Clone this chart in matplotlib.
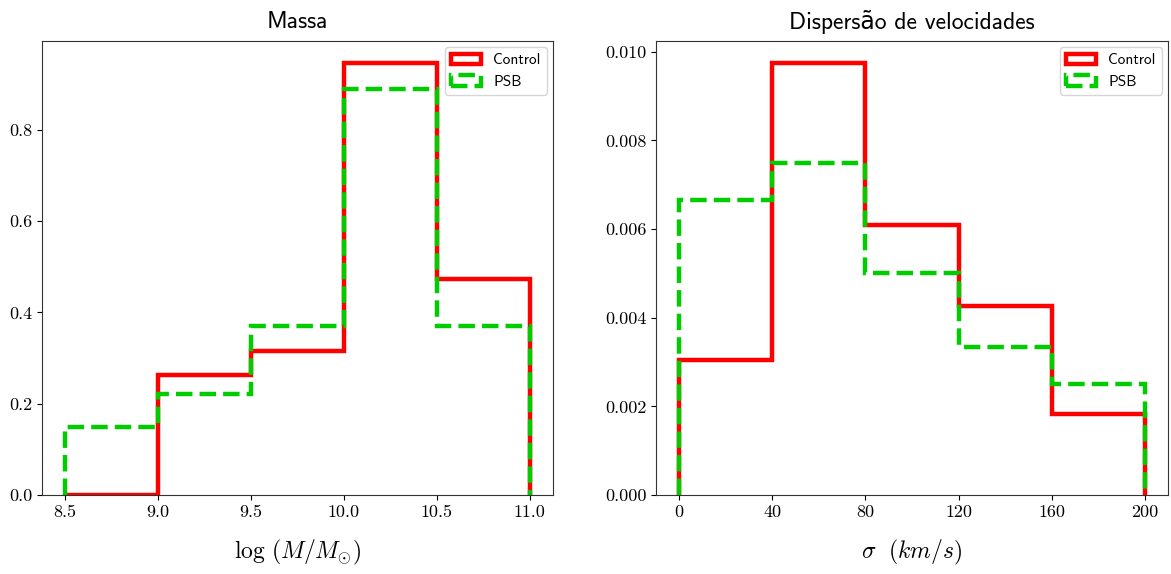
import numpy as np
import matplotlib
matplotlib.use("Agg")
import matplotlib.pyplot as plt

# ---- data ----
mass_edges = [8.5, 9.0, 9.5, 10.0, 10.5, 11.0]
mass_control = [0.0, 5/19, 6/19, 18/19, 9/19]
mass_psb = [4/27, 6/27, 10/27, 24/27, 10/27]

sigma_edges = [0, 40, 80, 120, 160, 200]
sigma_control = [5/1640, 16/1640, 10/1640, 7/1640, 3/1640]
sigma_psb = [8/1200, 9/1200, 6/1200, 4/1200, 3/1200]

mass_ticks = [8.5, 9.0, 9.5, 10.0, 10.5, 11.0]
sigma_ticks = [0, 40, 80, 120, 160, 200]
mass_yticks = [0.0, 0.2, 0.4, 0.6, 0.8]
sigma_yticks = [0.0, 0.002, 0.004, 0.006, 0.008, 0.010]

titles = ["Massa", "Dispersão de velocidades"]
xlabels = [r"$\log\,(M/M_{\odot})$", r"$\sigma\ \ (km/s)$"]
labels = ["Control", "PSB"]

plt.rcParams['mathtext.fontset'] = 'cm'
plt.rcParams['axes.unicode_minus'] = False

RED = '#ff0000'
GREEN = '#00cc00'
SANS = ['cmss10', 'DejaVu Sans']
SERIF = ['cmr10', 'DejaVu Serif']

W, H = 1171, 574
fig = plt.figure(figsize=(W/100, H/100), dpi=100)
ax1 = fig.add_axes([42/W, (H-495)/H, 511/W, 454/H])
ax2 = fig.add_axes([656/W, (H-495)/H, 512/W, 454/H])

def draw(ax, edges, ctrl, psb, ticks, yticks, title, xlabel, fmt, yfmt):
    edges = np.asarray(edges, float)
    centers = 0.5*(edges[:-1]+edges[1:])
    ax.hist(centers, bins=edges, weights=ctrl, histtype='step',
            color=RED, linewidth=3.2, label=labels[0])
    ax.hist(centers, bins=edges, weights=psb, histtype='step',
            color=GREEN, linewidth=3.2, linestyle='--', label=labels[1])
    ax.set_xticks(ticks)
    ax.set_xticklabels([fmt(t) for t in ticks], family=SERIF, fontsize=13)
    ax.set_yticks(yticks)
    ax.set_yticklabels([yfmt(v) for v in yticks], family=SERIF, fontsize=13)
    ax.set_title(title, family=SANS, fontsize=17, pad=9)
    ax.set_xlabel(xlabel, fontsize=17, labelpad=13)
    ax.legend(loc='upper right', prop={'family': SANS, 'size': 11},
              handlelength=2.0, borderaxespad=0.4)
    for sp in ax.spines.values():
        sp.set_color('#333333')

draw(ax1, mass_edges, mass_control, mass_psb, mass_ticks, mass_yticks,
     titles[0], xlabels[0], lambda t: f"{t:.1f}", lambda v: f"{v:.1f}")
draw(ax2, sigma_edges, sigma_control, sigma_psb, sigma_ticks, sigma_yticks,
     titles[1], xlabels[1], lambda t: f"{t:d}", lambda v: f"{v:.3f}")

fig.savefig("out.png", dpi=100)
